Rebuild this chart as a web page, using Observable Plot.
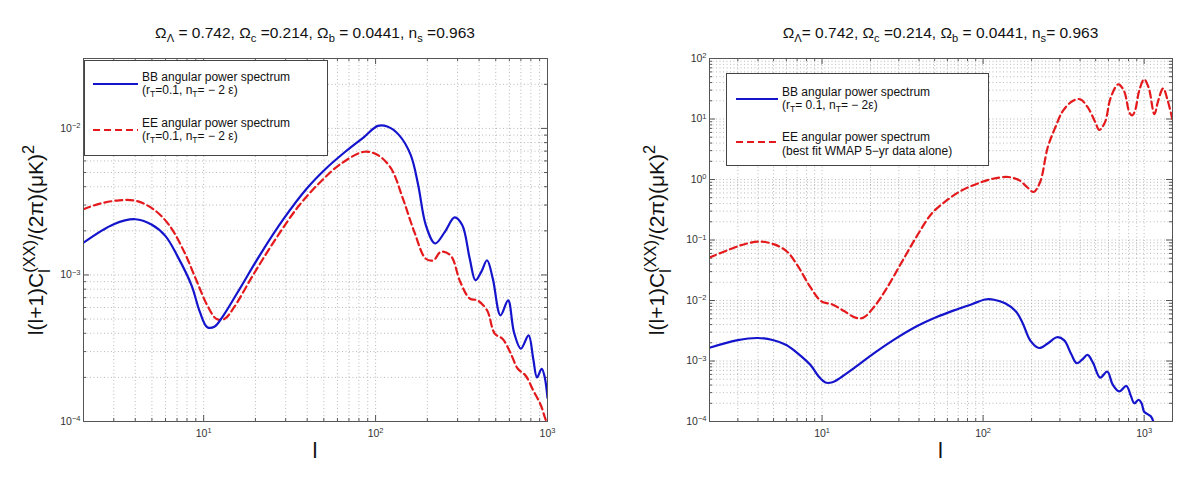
<!DOCTYPE html>
<html>
<head>
<meta charset="utf-8">
<script src="https://cdn.jsdelivr.net/npm/d3@7"></script>
<script src="https://cdn.jsdelivr.net/npm/@observablehq/plot@0.6"></script>
<style>
  html, body { margin: 0; padding: 0; background: #fff; }
  #wrap { position: relative; width: 1200px; height: 480px; overflow: hidden; font-family: "Liberation Sans", Arial, Helvetica, sans-serif; color: #111; }
  .panel { position: absolute; top: 0; }
  .title { position: absolute; top: 24px; font-size: 15.5px; line-height: 18px; text-align: center; white-space: nowrap; }
  .title sub, .leg sub { font-size: 0.72em; vertical-align: -0.4em; line-height: 0; }
  .xlab { position: absolute; top: 438px; font-size: 22px; line-height: 26px; text-align: center; }
  .ylab { position: absolute; width: 320px; height: 30px; line-height: 30px; font-size: 21px; text-align: center; white-space: nowrap; transform: rotate(-90deg); transform-origin: 50% 50%; }
  .ylab .stk { display: inline-block; vertical-align: -0.45em; line-height: 0.95; font-size: 0.78em; text-align: left; }
  .ylab .stk span { display: block; }
  .ylab sup { font-size: 0.78em; vertical-align: 0.55em; line-height: 0; }
  .leg { position: absolute; background: #fff; border: 1px solid #444; box-sizing: border-box; }
  .leg svg { position: absolute; overflow: visible; }
  .leg .lt { position: absolute; font-size: 12px; line-height: 13px; white-space: nowrap; }
</style>
</head>
<body>
<div id="wrap">
  <div id="p1" class="panel" style="left:0px"></div>
  <div id="p2" class="panel" style="left:600px"></div>

  <div class="title" style="left:83px;width:464px">Ω<sub>Λ</sub> = 0.742, Ω<sub>c</sub> =0.214, Ω<sub>b</sub> = 0.0441, n<sub>s</sub> =0.963</div>
  <div class="title" style="left:709px;width:463px">Ω<sub>Λ</sub>= 0.742, Ω<sub>c</sub> =0.214, Ω<sub>b</sub> = 0.0441, n<sub>s</sub>= 0.963</div>

  <div class="xlab" style="left:83px;width:464px">l</div>
  <div class="xlab" style="left:709px;width:463px">l</div>

  <div class="ylab" style="left:-124px;top:225px">l(l+1)C<span class="stk"><span>(XX)</span><span>l</span></span>/(2π)(μK)<sup>2</sup></div>
  <div class="ylab" style="left:497px;top:225px">l(l+1)C<span class="stk"><span>(XX)</span><span>l</span></span>/(2π)(μK)<sup>2</sup></div>

  <div class="leg" style="left:84px;top:60px;width:244px;height:96px">
    <svg style="left:8px;top:23px" width="46" height="2"><line x1="0" y1="0" x2="45" y2="0" stroke="#1414cc" stroke-width="2.2"/></svg>
    <div class="lt" style="left:57px;top:10px">BB angular power spectrum<br>(r<sub>T</sub>=0.1, n<sub>T</sub>= − 2 ε)</div>
    <svg style="left:8px;top:69px" width="46" height="2"><line x1="0" y1="0" x2="45" y2="0" stroke="#e4191c" stroke-width="2.2" stroke-dasharray="7,4"/></svg>
    <div class="lt" style="left:57px;top:56px">EE angular power spectrum<br>(r<sub>T</sub>=0.1, n<sub>T</sub>= − 2 ε)</div>
  </div>

  <div class="leg" style="left:726px;top:73px;width:263px;height:93px">
    <svg style="left:9px;top:25px" width="44" height="2"><line x1="0" y1="0" x2="42" y2="0" stroke="#1414cc" stroke-width="2.2"/></svg>
    <div class="lt" style="left:55px;top:12px">BB angular power spectrum<br>(r<sub>T</sub>= 0.1, n<sub>T</sub>= − 2ε)</div>
    <svg style="left:9px;top:68px" width="44" height="2"><line x1="0" y1="0" x2="42" y2="0" stroke="#e4191c" stroke-width="2.2" stroke-dasharray="7,4"/></svg>
    <div class="lt" style="left:55px;top:56px;line-height:14px">EE angular power spectrum<br>(best fit WMAP 5−yr data alone)</div>
  </div>
</div>

<script>
// ---------------- data ----------------
// BB angular power spectrum (r_T = 0.1), same curve in both panels
const ellBB = [2, 3, 4, 5, 6, 7, 8.5, 9.5, 10.5, 11.6, 12.9, 15.8, 21.5, 29.3, 39.8, 51.5, 66.6, 86, 103, 117, 137, 160, 177, 196, 222, 253, 288, 319, 353, 381, 412, 445, 481, 533, 590, 638, 700, 776, 826, 869, 925, 964, 1000, 1050, 1100, 1140];
const valBB = [1.66e-3, 2.22e-3, 2.4e-3, 2.2e-3, 1.84e-3, 1.36e-3, 8.5e-4, 5.6e-4, 4.4e-4, 4.45e-4, 5.2e-4, 7.65e-4, 1.4e-3, 2.43e-3, 3.89e-3, 5.33e-3, 6.93e-3, 8.77e-3, 1.04e-2, 1.03e-2, 9.0e-3, 6.6e-3, 4.1e-3, 2.19e-3, 1.64e-3, 1.97e-3, 2.47e-3, 2.19e-3, 1.29e-3, 9.2e-4, 1.05e-3, 1.26e-3, 9.4e-4, 5.3e-4, 6.7e-4, 4.07e-4, 3.14e-4, 3.87e-4, 2.68e-4, 2.0e-4, 2.29e-4, 2.0e-4, 1.45e-4, 1.32e-4, 1.22e-4, 1.0e-4];

// EE angular power spectrum, left panel (r_T = 0.1, n_T = -2 eps)
const ellEEL = [2, 2.5, 3.22, 4.06, 5.1, 6.3, 7.7, 9.0, 10.5, 11.9, 13.2, 15, 19.4, 26.4, 36, 48.9, 63.2, 86, 103, 123, 144, 168, 196, 217, 240, 273, 311, 353, 392, 445, 493, 547, 606, 672, 745, 826, 915, 964, 985];
const valEEL = [2.81e-3, 3.07e-3, 3.23e-3, 3.2e-3, 2.81e-3, 2.19e-3, 1.44e-3, 9.4e-4, 6.2e-4, 5.0e-4, 5.0e-4, 6.0e-4, 1.0e-3, 1.78e-3, 2.99e-3, 4.43e-3, 5.77e-3, 6.93e-3, 6.58e-3, 5.33e-3, 3.33e-3, 1.97e-3, 1.29e-3, 1.26e-3, 1.44e-3, 1.36e-3, 8.95e-4, 6.9e-4, 6.7e-4, 5.74e-4, 3.98e-4, 3.67e-4, 2.98e-4, 2.29e-4, 2.06e-4, 1.63e-4, 1.29e-4, 1.07e-4, 1.0e-4];

// EE angular power spectrum, right panel (best fit WMAP 5-yr data alone)
const ellEER = [2, 2.68, 3.33, 4.14, 5.15, 6.07, 7.1, 8.4, 9.9, 11.6, 13.7, 16.1, 18, 21.2, 24.9, 31, 38.6, 48, 59.6, 74, 92, 115, 143, 168, 187, 206, 226, 252, 281, 313, 360, 401, 447, 498, 526, 571, 620, 691, 750, 813, 845, 880, 931, 1000, 1067, 1158, 1222, 1312, 1402, 1496];
const valEER = [0.0513, 0.0703, 0.086, 0.094, 0.083, 0.064, 0.0366, 0.0171, 9.7e-3, 8.6e-3, 6.7e-3, 5.2e-3, 5.2e-3, 8.05e-3, 0.0151, 0.0414, 0.1135, 0.274, 0.454, 0.664, 0.853, 1.03, 1.1, 0.968, 0.752, 0.622, 0.908, 3.41, 7.3, 13.6, 19.9, 21.2, 15.5, 8.8, 6.6, 8.8, 22.6, 37.4, 29.1, 12.5, 11.5, 14, 29.1, 45.2, 33, 12, 20, 32, 20, 10];

// axis ticks
const xMajor = [10, 100, 1000];
const yMajorL = [1e-4, 1e-3, 1e-2];
const yMajorR = [1e-4, 1e-3, 1e-2, 1e-1, 1, 10, 100];

// ---------------- helpers ----------------
const BLUE = "#1414cc", RED = "#e4191c";
const supMap = {"-": "⁻", "0": "⁰", "1": "¹", "2": "²", "3": "³", "4": "⁴", "5": "⁵", "6": "⁶", "7": "⁷", "8": "⁸", "9": "⁹"};
const revMap = Object.fromEntries(Object.entries(supMap).map(([k, v]) => [v, k]));
const fmtPow = d => "10" + String(Math.round(Math.log10(d))).split("").map(c => supMap[c]).join("");

function logSteps(lo, hi) {
  const out = [];
  for (let e = Math.floor(Math.log10(lo)) - 1; e <= Math.ceil(Math.log10(hi)); e++) {
    for (let m = 1; m <= 9; m++) {
      const v = +(m * Math.pow(10, e)).toPrecision(6);
      if (v >= lo * 0.9999 && v <= hi * 1.0001) out.push(v);
    }
  }
  return out;
}
const rows = (ls, vs) => ls.map((l, i) => ({l, v: vs[i]}));

// turn "10⁻²" tick labels into "10" + a raised smaller exponent (MATLAB style)
function raiseExponents(svg) {
  svg.querySelectorAll("text").forEach(t => {
    const s = t.textContent;
    const m = /^10([⁻⁰¹²³⁴⁵⁶⁷⁸⁹]+)$/.exec(s);
    if (!m) return;
    const exp = m[1].split("").map(c => revMap[c]).join("").replace("-", "\u2212");
    t.textContent = "";
    const base = document.createElementNS("http://www.w3.org/2000/svg", "tspan");
    base.textContent = "10";
    const sup = document.createElementNS("http://www.w3.org/2000/svg", "tspan");
    sup.textContent = exp;
    sup.setAttribute("font-size", "7.5px");
    sup.setAttribute("dy", "-0.5em");
    t.appendChild(base);
    t.appendChild(sup);
  });
}

function panel(o) {
  const W = 600, H = 480;
  const pw = W - o.ml - o.mr, ph = H - o.mt - o.mb;
  const xAll = logSteps(o.xd[0], o.xd[1]);
  const yAll = logSteps(o.yd[0], o.yd[1]);
  const xMinor = xAll.filter(v => !xMajor.includes(v));
  const yMinor = yAll.filter(v => !o.yMajor.includes(v));
  const gridStyle = {stroke: "#a8a8a8", strokeDasharray: "1,2.5", strokeWidth: 0.8};
  const tick = {stroke: "#444", strokeWidth: 0.9};
  const svg = Plot.plot({
    width: W, height: H,
    marginLeft: o.ml, marginRight: o.mr, marginTop: o.mt, marginBottom: o.mb,
    style: {fontFamily: "Liberation Sans, Arial, sans-serif", fontSize: "10.5px", color: "#333", background: "#fff", overflow: "visible"},
    x: {type: "log", domain: o.xd, ticks: xMajor, tickFormat: fmtPow, tickSize: 0, tickPadding: 8, label: null},
    y: {type: "log", domain: o.yd, ticks: o.yMajor, tickFormat: fmtPow, tickSize: 0, tickPadding: 3, label: null},
    marks: [
      Plot.ruleX(xAll, gridStyle),
      Plot.ruleY(yAll, gridStyle),
      // inward tick marks (major and minor) on all four sides
      Plot.ruleX(xMajor, {...tick, insetTop: ph - 6}),
      Plot.ruleX(xMajor, {...tick, insetBottom: ph - 6}),
      Plot.ruleX(xMinor, {...tick, insetTop: ph - 3}),
      Plot.ruleX(xMinor, {...tick, insetBottom: ph - 3}),
      Plot.ruleY(o.yMajor, {...tick, insetRight: pw - 6}),
      Plot.ruleY(o.yMajor, {...tick, insetLeft: pw - 6}),
      Plot.ruleY(yMinor, {...tick, insetRight: pw - 3}),
      Plot.ruleY(yMinor, {...tick, insetLeft: pw - 3}),
      ...o.lines.map(s => Plot.line(s.data, {
        x: "l", y: "v", stroke: s.color, strokeWidth: 2.2,
        strokeDasharray: s.dash || null, curve: "catmull-rom", clip: true
      })),
      Plot.frame({stroke: "#555", strokeWidth: 1})
    ]
  });
  raiseExponents(svg);
  return svg;
}

const left = panel({
  ml: 83, mr: 53, mt: 58, mb: 59,
  xd: [2, 1000], yd: [1e-4, 3e-2], yMajor: yMajorL,
  lines: [
    {data: rows(ellEEL, valEEL), color: RED, dash: "7,4"},
    {data: rows(ellBB, valBB).filter(d => d.l <= 1000), color: BLUE}
  ]
});
const right = panel({
  ml: 109, mr: 28, mt: 58, mb: 59,
  xd: [2, 1500], yd: [1e-4, 100], yMajor: yMajorR,
  lines: [
    {data: rows(ellEER, valEER), color: RED, dash: "7,4"},
    {data: rows(ellBB, valBB), color: BLUE}
  ]
});
document.getElementById("p1").appendChild(left);
document.getElementById("p2").appendChild(right);
</script>
</body>
</html>
